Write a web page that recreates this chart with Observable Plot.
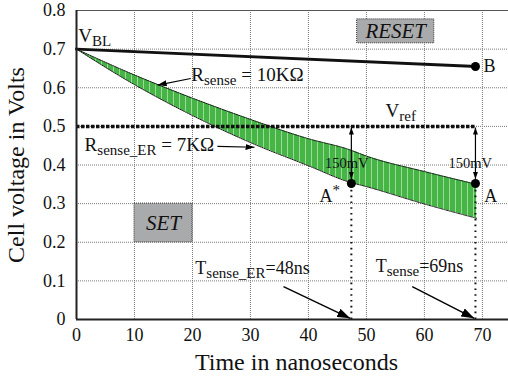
<!DOCTYPE html>
<html><head><meta charset="utf-8">
<script src="https://cdn.jsdelivr.net/npm/d3@7"></script>
<script src="https://cdn.jsdelivr.net/npm/@observablehq/plot@0.6"></script>
<style>body{margin:0;background:#fff} svg text{font-family:"Liberation Serif",serif !important;}</style>
</head><body>
<svg width="0" height="0" style="position:absolute">
<defs>
<pattern id="hatch" patternUnits="userSpaceOnUse" width="6" height="8">
  <rect width="6" height="8" fill="#45b545"/>
  <rect x="5" width="1" height="8" fill="#9fd89a"/>
</pattern>
<marker id="headL" viewBox="0 0 10 10" refX="10" refY="5" markerWidth="13" markerHeight="9" markerUnits="userSpaceOnUse" orient="auto-start-reverse" preserveAspectRatio="none">
  <path d="M0,0L10,5L0,10z" fill="#000"/>
</marker>
<marker id="headM" viewBox="0 0 10 10" refX="10" refY="5" markerWidth="9" markerHeight="6" markerUnits="userSpaceOnUse" orient="auto-start-reverse" preserveAspectRatio="none">
  <path d="M0,0L10,5L0,10z" fill="#000"/>
</marker>
<marker id="headS" viewBox="0 0 10 10" refX="10" refY="5" markerWidth="7" markerHeight="5" markerUnits="userSpaceOnUse" orient="auto-start-reverse" preserveAspectRatio="none">
  <path d="M0,0L10,5L0,10z" fill="#000"/>
</marker>
</defs></svg>
<div id="chart"></div>
<script>
// ---- data ----
const times = [0, 10, 20, 30, 40, 47, 50, 60, 69];
const vHigh = [0.700, 0.633, 0.573, 0.518, 0.468, 0.440, 0.423, 0.383, 0.350]; // R_sense = 10KΩ
const vLow  = [0.700, 0.608, 0.528, 0.458, 0.398, 0.356, 0.344, 0.299, 0.262]; // R_sense_ER = 7KΩ
const resetT = [0, 69];
const resetV = [0.700, 0.655];
const vRef = 0.5;
const senseT = [47.4, 68.8];
const senseV = [0.352, 0.352];
const pointT = [47.4, 68.8, 68.8];
const pointV = [0.352, 0.352, 0.655];
const xTicks = [0, 10, 20, 30, 40, 50, 60, 70];
const xTickLabels = ["0", "10", "20", "30", "40", "50", "60", "70"];
const yTicks = [0, 0.1, 0.2, 0.3, 0.4, 0.5, 0.6, 0.7, 0.8];
const yTickLabels = ["0", "0.1", "0.2", "0.3", "0.4", "0.5", "0.6", "0.7", "0.8"];
const xTitle = "Time in nanoseconds";
const yTitle = "Cell voltage in Volts";

// annotations (data coordinates)
const bigNotes = [
  {x: 0.3, y: 0.733, text: "V_{BL}"},
  {x: 19.8, y: 0.632, text: "R_{sense} = 10KΩ"},
  {x: 1.4, y: 0.453, text: "R_{sense_ER} = 7KΩ"},
  {x: 53.3, y: 0.539, text: "V_{ref}"}
];
const pointNotes = [
  {x: 41.9, y: 0.319, text: "A^{*}"},
  {x: 70.3, y: 0.319, text: "A"},
  {x: 70.2, y: 0.655, text: "B"}
];
const mvNotes = [
  {x: 46.6, y: 0.405, text: "150mV"},
  {x: 67.9, y: 0.405, text: "150mV"}
];
const timeNotes = [
  {x: 20.5, y: 0.133, text: "T_{sense_ER}=48ns"},
  {x: 51.6, y: 0.137, text: "T_{sense}=69ns"}
];
const boxes = [
  {x1: 10, x2: 20, y1: 0.2, y2: 0.3, text: "SET"},
  {x1: 48.4, x2: 61.7, y1: 0.715, y2: 0.777, text: "RESET"}
];
const rArrows = [
  {x1: 19.7, y1: 0.624, x2: 14.0, y2: 0.607},
  {x1: 24.3, y1: 0.448, x2: 30.7, y2: 0.446}
];
const tArrows = [
  {x1: 35.7, y1: 0.085, x2: 47.2, y2: 0.003},
  {x1: 57.9, y1: 0.085, x2: 68.6, y2: 0.003}
];
const mvArrows = [
  {x1: 47.4, y1: 0.364, x2: 47.4, y2: 0.497},
  {x1: 68.8, y1: 0.364, x2: 68.8, y2: 0.497}
];

const band = times.map((t, i) => ({t, hi: vHigh[i], lo: vLow[i]}));
const reset = resetT.map((t, i) => ({t, v: resetV[i]}));
const senses = senseT.map((t, i) => ({t, v: senseV[i]}));
const points = pointT.map((t, i) => ({t, v: pointV[i]}));

const serif = "Liberation Serif";
const chart = Plot.plot({
  width: 508, height: 377,
  marginLeft: 76, marginRight: 0, marginTop: 10, marginBottom: 58,
  style: {fontFamily: serif, background: "#fff", overflow: "visible"},
  x: {domain: [0, 74.5]},
  y: {domain: [0, 0.8]},
  marks: [
    Plot.gridX(xTicks.slice(1), {stroke: "#7a7a7a", strokeOpacity: 1, strokeWidth: 1, strokeDasharray: "1,1"}),
    Plot.gridY(yTicks.slice(1, -1), {stroke: "#7a7a7a", strokeOpacity: 1, strokeWidth: 1, strokeDasharray: "1,1"}),
    Plot.ruleY([0.8], {stroke: "#555", strokeWidth: 1}),
    Plot.areaY(band, {x: "t", y1: "lo", y2: "hi", fill: "url(#hatch)", curve: "monotone-x"}),
    Plot.line(band, {x: "t", y: "hi", stroke: "#1a1a1a", strokeWidth: 1, strokeDasharray: "1.5,1", curve: "monotone-x"}),
    Plot.line(band, {x: "t", y: "lo", stroke: "#1a1a1a", strokeWidth: 1, strokeDasharray: "1.5,1", curve: "monotone-x"}),
    Plot.rect(boxes, {x1: "x1", x2: "x2", y1: "y1", y2: "y2", fill: "#a9aaab", stroke: "#333", strokeWidth: 1, strokeDasharray: "1,1"}),
    Plot.text(boxes, {x: d => (d.x1 + d.x2) / 2, y: d => (d.y1 + d.y2) / 2, text: "text", fontSize: 21, fontStyle: "italic", fill: "#111"}),
    Plot.line(reset, {x: "t", y: "v", stroke: "#111", strokeWidth: 3}),
    Plot.ruleY([vRef], {x1: 0, x2: 69, stroke: "#111", strokeWidth: 3.5, strokeDasharray: "3.5,1.5"}),
    Plot.ruleX(senses, {x: "t", y1: 0, y2: "v", stroke: "#111", strokeWidth: 2, strokeDasharray: "1.6,4.2"}),
    Plot.link(rArrows, {x1: "x1", y1: "y1", x2: "x2", y2: "y2", stroke: "#000", strokeWidth: 1.2}),
    Plot.link(tArrows, {x1: "x1", y1: "y1", x2: "x2", y2: "y2", stroke: "#000", strokeWidth: 1.4}),
    Plot.link(mvArrows, {x1: "x1", y1: "y1", x2: "x2", y2: "y2", stroke: "#000", strokeWidth: 1.2}),
    Plot.dot(points, {x: "t", y: "v", r: 4.5, fill: "#000"}),
    Plot.text(bigNotes, {x: "x", y: "y", text: "text", textAnchor: "start", fontSize: 19, fill: "#111"}),
    Plot.text(pointNotes, {x: "x", y: "y", text: "text", textAnchor: "start", fontSize: 18, fill: "#111"}),
    Plot.text(mvNotes, {x: "x", y: "y", text: "text", fontSize: 14.5, fill: "#111"}),
    Plot.text(timeNotes, {x: "x", y: "y", text: "text", textAnchor: "start", fontSize: 18, fill: "#111"}),
    Plot.ruleX([0], {stroke: "#222", strokeWidth: 2}),
    Plot.ruleY([0], {stroke: "#222", strokeWidth: 2}),
    Plot.axisX({ticks: xTicks, tickSize: 0, tickPadding: 9, fontSize: 18, fill: "#111",
      tickFormat: d => xTickLabels[xTicks.indexOf(d)], label: null}),
    Plot.axisY({ticks: yTicks, tickSize: 0, tickPadding: 11, fontSize: 18, fill: "#111",
      tickFormat: d => yTickLabels[yTicks.indexOf(d)], label: null}),
    Plot.text([xTitle], {frameAnchor: "bottom", lineAnchor: "middle", textAnchor: "middle", dx: 4, dy: 43, fontSize: 24, fill: "#111"}),
    Plot.text([yTitle], {frameAnchor: "left", lineAnchor: "middle", textAnchor: "middle", dx: -60, rotate: -90, fontSize: 24, fill: "#111"})
  ]
});
document.getElementById("chart").appendChild(chart);

// arrowheads
const linkGroups = d3.select(chart).selectAll('g[aria-label="link"]').nodes();
d3.select(linkGroups[0]).selectAll("path").attr("marker-end", "url(#headM)");
d3.select(linkGroups[1]).selectAll("path").attr("marker-end", "url(#headL)");
d3.select(linkGroups[2]).selectAll("path").attr("marker-end", "url(#headS)").attr("marker-start", "url(#headS)");

// serif everywhere, sub/superscripts
d3.select(chart).selectAll("text").style("font-family", "'Liberation Serif', serif").each(function () {
  const s = this.textContent;
  if (!/[_^]\{/.test(s)) return;
  const parts = s.split(/([_^]\{[^}]*\})/).filter(p => p);
  this.textContent = "";
  let shift = 0;
  for (const p of parts) {
    let txt = p, dy = 0, small = false;
    if (p.startsWith("_{")) { txt = p.slice(2, -1); dy = 4; small = true; }
    else if (p.startsWith("^{")) { txt = p.slice(2, -1); dy = -7; small = true; }
    const ts = d3.select(this).append("tspan").text(txt);
    if (dy - shift) ts.attr("dy", dy - shift);
    shift = dy;
    if (small) ts.attr("font-size", 15);
  }
});
</script>
</body></html>
